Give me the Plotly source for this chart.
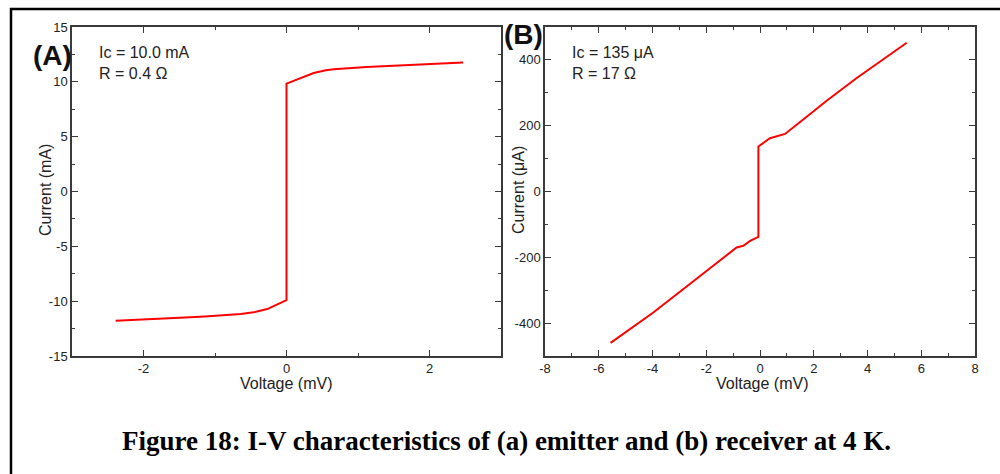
import plotly.graph_objects as go

# Panel A: emitter I-V curve (voltage in mV, current in mA)
emitter_v = [-2.39, -1.9, -1.2, -0.64, -0.46, -0.27, -0.13, 0.0, 0.0, 0.08, 0.22, 0.38, 0.55, 0.66, 1.12, 2.47]
emitter_i = [-11.78, -11.63, -11.42, -11.17, -11.02, -10.72, -10.26, -9.9, 9.84, 10.05, 10.39, 10.81, 11.06, 11.15, 11.36, 11.76]

# Panel B: receiver I-V curve (voltage in mV, current in uA)
receiver_v = [-5.56, -3.97, -1.98, -0.87, -0.62, -0.37, -0.06, -0.06, 0.37, 0.74, 0.93, 1.55, 2.48, 3.6, 5.46]
receiver_i = [-460, -368, -241, -170, -165, -150, -138, 137, 162, 172, 175, 215, 276, 345, 452]

# Tick values and labels (plain hyphen for negatives)
a_xticks = [-2, 0, 2]
a_yticks = [-15, -10, -5, 0, 5, 10, 15]
b_xticks = [-8, -6, -4, -2, 0, 2, 4, 6, 8]
b_yticks = [-400, -200, 0, 200, 400]

W, H = 1000, 474
AXIS_COLOR = "#3a3a3a"
TEXT_COLOR = "#222222"
SANS = "Liberation Sans, Arial, sans-serif"


def px(x):
    return x / W


def py(y):
    return 1 - y / H


fig = go.Figure()
fig.add_trace(go.Scatter(x=emitter_v, y=emitter_i, mode="lines",
                         line=dict(color="#ff0000", width=2), xaxis="x", yaxis="y",
                         showlegend=False, hoverinfo="skip"))
fig.add_trace(go.Scatter(x=receiver_v, y=receiver_i, mode="lines",
                         line=dict(color="#ff0000", width=2), xaxis="x2", yaxis="y2",
                         showlegend=False, hoverinfo="skip"))


def axis_style(rng, ticks, minor_dtick, domain, anchor, size):
    return dict(
        range=rng, tickmode="array", tickvals=ticks, ticktext=[str(t) for t in ticks],
        domain=domain, anchor=anchor, automargin=False,
        showline=True, linecolor=AXIS_COLOR, linewidth=1.5, mirror="allticks",
        ticks="inside", ticklen=6, tickwidth=1.3, tickcolor=AXIS_COLOR,
        minor=dict(dtick=minor_dtick, tick0=0, ticks="inside", ticklen=3,
                   tickwidth=1.3, tickcolor=AXIS_COLOR, showgrid=False),
        showgrid=False, zeroline=False,
        tickfont=dict(family=SANS, size=size, color=TEXT_COLOR),
    )


y_dom = [py(356), py(27)]
fig.update_layout(
    width=W, height=H,
    margin=dict(l=0, r=0, t=0, b=0),
    paper_bgcolor="white", plot_bgcolor="white",
    xaxis=axis_style([-3, 3], a_xticks, 1, [px(72), px(501)], "y", 13),
    yaxis=axis_style([-15, 15], a_yticks, 2.5, y_dom, "x", 13),
    xaxis2=axis_style([-8, 8], b_xticks, 1, [px(545), px(975)], "y2", 13),
    yaxis2=axis_style([-500, 500], b_yticks, 100, y_dom, "x2", 13),
)

annotations = [
    dict(text="<b>(A)</b>", x=px(52), y=py(55), font=dict(size=28, family=SANS, color="#111")),
    dict(text="<b>(B)</b>", x=px(523), y=py(35), font=dict(size=28, family=SANS, color="#111")),
    dict(text="Ic = 10.0 mA", x=px(97), y=py(52), xanchor="left", font=dict(size=16, family=SANS, color=TEXT_COLOR)),
    dict(text="R = 0.4 Ω", x=px(97), y=py(74), xanchor="left", font=dict(size=16, family=SANS, color=TEXT_COLOR)),
    dict(text="Ic = 135 μA", x=px(570), y=py(52), xanchor="left", font=dict(size=16, family=SANS, color=TEXT_COLOR)),
    dict(text="R = 17 Ω", x=px(570), y=py(74), xanchor="left", font=dict(size=16, family=SANS, color=TEXT_COLOR)),
    dict(text="Voltage (mV)", x=px(286), y=py(383), font=dict(size=16, family=SANS, color=TEXT_COLOR)),
    dict(text="Voltage (mV)", x=px(762), y=py(383), font=dict(size=16, family=SANS, color=TEXT_COLOR)),
    dict(text="Current (mA)", x=px(45), y=py(190), textangle=-90, font=dict(size=16, family=SANS, color=TEXT_COLOR)),
    dict(text="Current (μA)", x=px(518), y=py(190), textangle=-90, font=dict(size=16, family=SANS, color=TEXT_COLOR)),
    dict(text="<b>Figure 18: I-V characteristics of (a) emitter and (b) receiver at 4 K.</b>",
         x=px(506), y=py(441), font=dict(size=27, family="Liberation Serif, Times New Roman, serif", color="black")),
]
for a in annotations:
    a.setdefault("xanchor", "center")
    a.update(xref="paper", yref="paper", yanchor="middle", showarrow=False)
fig.update_layout(annotations=annotations)

# Outer black frame around the figure
fig.add_shape(type="rect", xref="paper", yref="paper",
              x0=px(11), x1=1.05, y0=-0.05, y1=py(9),
              line=dict(color="black", width=2.5), layer="above")

fig.write_html("out.html")
